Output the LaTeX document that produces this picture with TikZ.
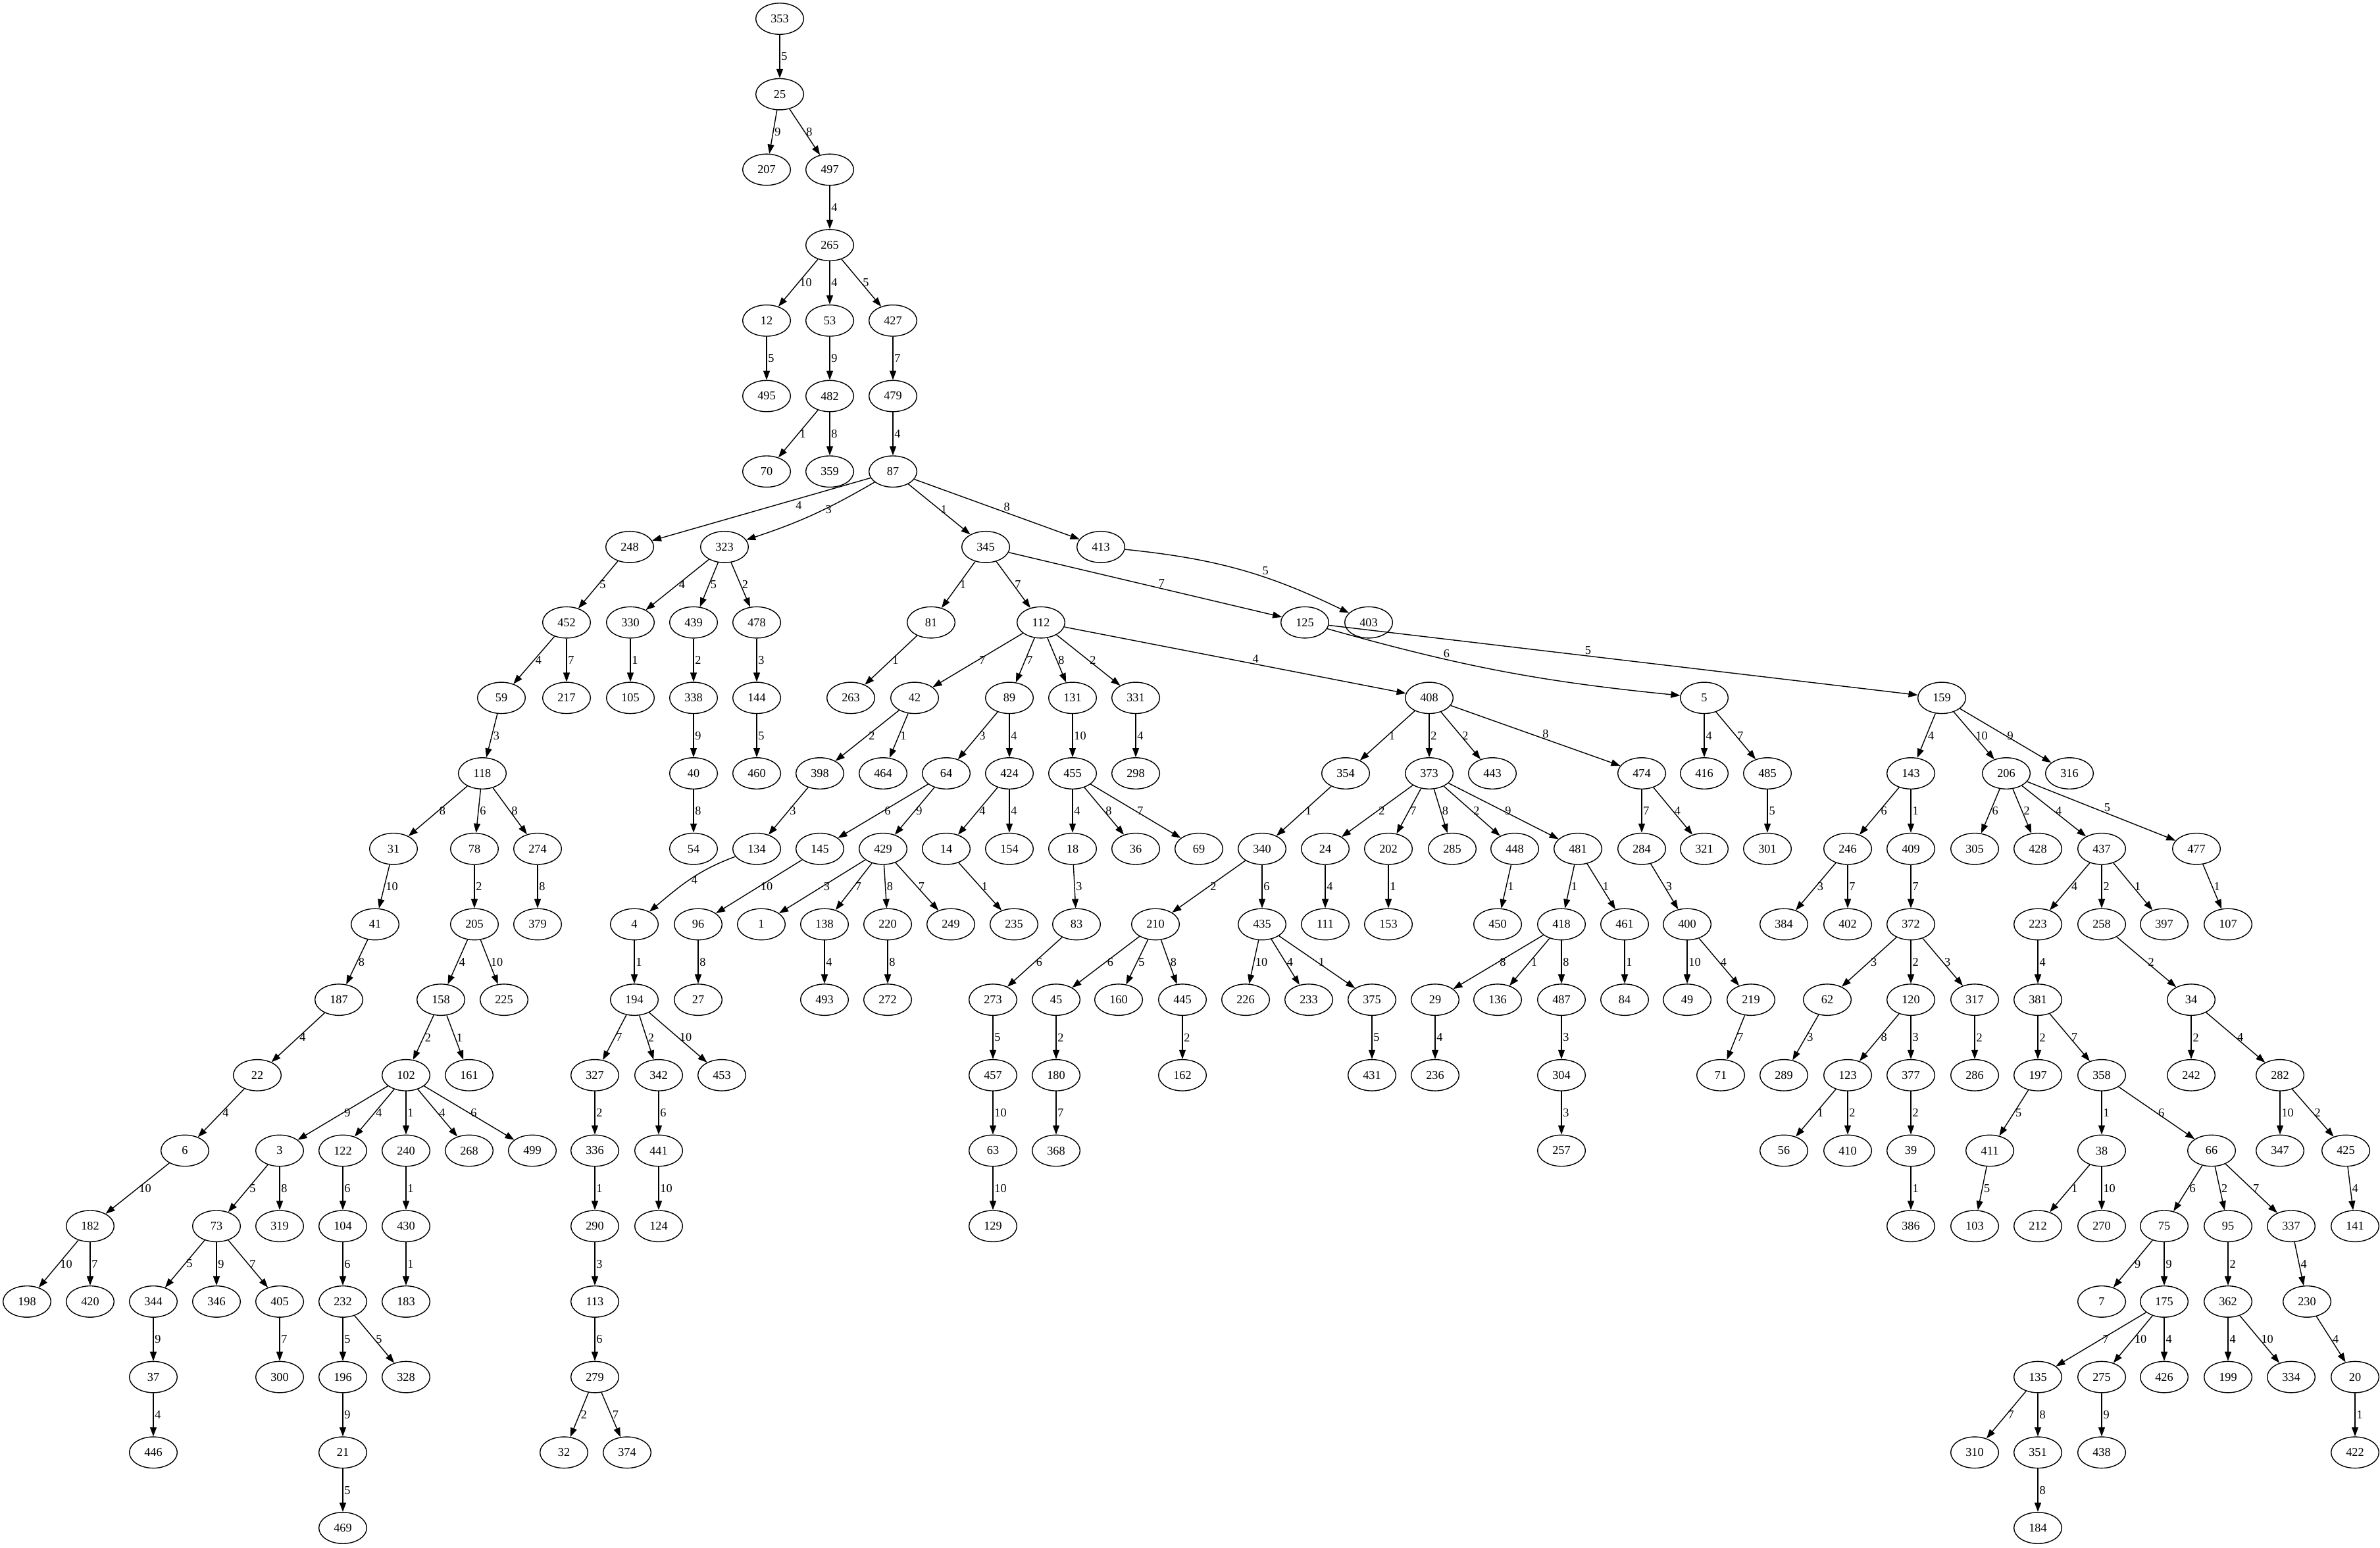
\documentclass[tikz,border=0pt]{standalone}
\usepackage{fontspec}
\setmainfont{Liberation Serif}
\usepackage{tikz}
\usetikzlibrary{shapes.geometric,arrows.meta}
\tikzstyle{vertex} = [ellipse, draw=black, line width=0.4pt, minimum width=0.727cm, minimum height=0.475cm, inner sep=0pt]
\tikzstyle{arrow} = [line width=0.4pt, -{Triangle[length=1.4mm,width=1mm]}]
\tikzstyle{wt} = [anchor=west, inner sep=0.5pt]

\begin{document}
\begin{tikzpicture}[node distance=1.147cm, font=\fontsize{5.2}{6}\selectfont]

\useasboundingbox (0,0) rectangle (36.17,-23.52);

\node (n353) [vertex] at (11.85,-0.285) {353};
\node (n25) [vertex, below of=n353] {25};
\node (n207) [vertex, below of=n25, xshift=-0.2cm] {207};
\node (n497) [vertex, below of=n25, xshift=0.76cm] {497};
\node (n265) [vertex, below of=n497] {265};
\node (n12) [vertex, below of=n265, xshift=-0.96cm] {12};
\node (n53) [vertex, below of=n265] {53};
\node (n427) [vertex, below of=n265, xshift=0.96cm] {427};
\node (n495) [vertex, below of=n12] {495};
\node (n482) [vertex, below of=n53] {482};
\node (n479) [vertex, below of=n427] {479};
\node (n70) [vertex, below of=n482, xshift=-0.96cm] {70};
\node (n359) [vertex, below of=n482] {359};
\node (n87) [vertex, below of=n479] {87};

\node (n248) [vertex, below of=n87, xshift=-4cm] {248};
\node (n323) [vertex, below of=n87, xshift=-2.56cm] {323};
\node (n345) [vertex, below of=n87, xshift=1.41cm] {345};
\node (n413) [vertex, below of=n87, xshift=3.16cm] {413};

\node (n452) [vertex, below of=n248, xshift=-0.96cm] {452};
\node (n330) [vertex, below of=n323, xshift=-1.43cm] {330};
\node (n439) [vertex, below of=n323, xshift=-0.47cm] {439};
\node (n478) [vertex, below of=n323, xshift=0.49cm] {478};
\node (n81) [vertex, below of=n345, xshift=-0.83cm] {81};
\node (n112) [vertex, below of=n345, xshift=0.84cm] {112};
\node (n125) [vertex, below of=n345, xshift=4.85cm] {125};
\node (n403) [vertex, below of=n413, xshift=4.07cm] {403};

\node (n59) [vertex, below of=n452, xshift=-0.99cm] {59};
\node (n217) [vertex, below of=n452] {217};
\node (n105) [vertex, below of=n330] {105};
\node (n338) [vertex, below of=n439] {338};
\node (n144) [vertex, below of=n478] {144};
\node (n263) [vertex, below of=n81, xshift=-1.22cm] {263};
\node (n42) [vertex, below of=n112, xshift=-1.92cm] {42};
\node (n89) [vertex, below of=n112, xshift=-0.48cm] {89};
\node (n131) [vertex, below of=n112, xshift=0.48cm] {131};
\node (n331) [vertex, below of=n112, xshift=1.44cm] {331};
\node (n408) [vertex, below of=n112, xshift=5.9cm] {408};
\node (n5) [vertex, below of=n125, xshift=6.07cm] {5};
\node (n159) [vertex, below of=n125, xshift=9.68cm] {159};

\node (n118) [vertex, below of=n59, xshift=-0.29cm] {118};
\node (n40) [vertex, below of=n338] {40};
\node (n460) [vertex, below of=n144] {460};
\node (n398) [vertex, below of=n42, xshift=-1.44cm] {398};
\node (n464) [vertex, below of=n42, xshift=-0.48cm] {464};
\node (n64) [vertex, below of=n89, xshift=-0.96cm] {64};
\node (n424) [vertex, below of=n89] {424};
\node (n455) [vertex, below of=n131] {455};
\node (n298) [vertex, below of=n331] {298};
\node (n354) [vertex, below of=n408, xshift=-1.27cm] {354};
\node (n373) [vertex, below of=n408] {373};
\node (n443) [vertex, below of=n408, xshift=0.96cm] {443};
\node (n474) [vertex, below of=n408, xshift=3.23cm] {474};
\node (n416) [vertex, below of=n5] {416};
\node (n485) [vertex, below of=n5, xshift=0.96cm] {485};
\node (n143) [vertex, below of=n159, xshift=-0.47cm] {143};
\node (n206) [vertex, below of=n159, xshift=0.98cm] {206};
\node (n316) [vertex, below of=n159, xshift=1.94cm] {316};

\node (n31) [vertex, below of=n118, xshift=-1.35cm] {31};
\node (n78) [vertex, below of=n118, xshift=-0.12cm] {78};
\node (n274) [vertex, below of=n118, xshift=0.84cm] {274};
\node (n54) [vertex, below of=n40] {54};
\node (n134) [vertex, below of=n398, xshift=-0.96cm] {134};
\node (n145) [vertex, below of=n64, xshift=-1.92cm] {145};
\node (n429) [vertex, below of=n64, xshift=-0.96cm] {429};
\node (n14) [vertex, below of=n424, xshift=-0.96cm] {14};
\node (n154) [vertex, below of=n424] {154};
\node (n18) [vertex, below of=n455] {18};
\node (n36) [vertex, below of=n455, xshift=0.96cm] {36};
\node (n69) [vertex, below of=n455, xshift=1.92cm] {69};
\node (n340) [vertex, below of=n354, xshift=-1.27cm] {340};
\node (n24) [vertex, below of=n373, xshift=-1.58cm] {24};
\node (n202) [vertex, below of=n373, xshift=-0.62cm] {202};
\node (n285) [vertex, below of=n373, xshift=0.35cm] {285};
\node (n448) [vertex, below of=n373, xshift=1.3cm] {448};
\node (n481) [vertex, below of=n373, xshift=2.26cm] {481};
\node (n284) [vertex, below of=n474] {284};
\node (n321) [vertex, below of=n474, xshift=0.95cm] {321};
\node (n301) [vertex, below of=n485] {301};
\node (n246) [vertex, below of=n143, xshift=-0.96cm] {246};
\node (n409) [vertex, below of=n143] {409};
\node (n305) [vertex, below of=n206, xshift=-0.48cm] {305};
\node (n428) [vertex, below of=n206, xshift=0.48cm] {428};
\node (n437) [vertex, below of=n206, xshift=1.45cm] {437};
\node (n477) [vertex, below of=n206, xshift=2.89cm] {477};

\node (n41) [vertex, below of=n31, xshift=-0.28cm] {41};
\node (n205) [vertex, below of=n78] {205};
\node (n379) [vertex, below of=n274] {379};
\node (n4) [vertex, below of=n134, xshift=-1.86cm] {4};
\node (n96) [vertex, below of=n145, xshift=-1.85cm] {96};
\node (n1) [vertex, below of=n429, xshift=-1.85cm] {1};
\node (n138) [vertex, below of=n429, xshift=-0.89cm] {138};
\node (n220) [vertex, below of=n429, xshift=0.07cm] {220};
\node (n249) [vertex, below of=n429, xshift=1.03cm] {249};
\node (n235) [vertex, below of=n14, xshift=1.03cm] {235};
\node (n83) [vertex, below of=n18, xshift=0.06cm] {83};
\node (n210) [vertex, below of=n340, xshift=-1.62cm] {210};
\node (n435) [vertex, below of=n340] {435};
\node (n111) [vertex, below of=n24] {111};
\node (n153) [vertex, below of=n202] {153};
\node (n450) [vertex, below of=n448, xshift=-0.26cm] {450};
\node (n418) [vertex, below of=n481, xshift=-0.25cm] {418};
\node (n461) [vertex, below of=n481, xshift=0.71cm] {461};
\node (n400) [vertex, below of=n284, xshift=0.69cm] {400};
\node (n384) [vertex, below of=n246, xshift=-0.97cm] {384};
\node (n402) [vertex, below of=n246] {402};
\node (n372) [vertex, below of=n409] {372};
\node (n223) [vertex, below of=n437, xshift=-0.97cm] {223};
\node (n258) [vertex, below of=n437] {258};
\node (n397) [vertex, below of=n437, xshift=0.95cm] {397};
\node (n107) [vertex, below of=n477, xshift=0.48cm] {107};

\node (n187) [vertex, below of=n41, xshift=-0.55cm] {187};
\node (n158) [vertex, below of=n205, xshift=-0.51cm] {158};
\node (n225) [vertex, below of=n205, xshift=0.45cm] {225};
\node (n194) [vertex, below of=n4] {194};
\node (n27) [vertex, below of=n96] {27};
\node (n493) [vertex, below of=n138] {493};
\node (n272) [vertex, below of=n220] {272};
\node (n273) [vertex, below of=n83, xshift=-1.27cm] {273};
\node (n45) [vertex, below of=n210, xshift=-1.51cm] {45};
\node (n160) [vertex, below of=n210, xshift=-0.56cm] {160};
\node (n445) [vertex, below of=n210, xshift=0.41cm] {445};
\node (n226) [vertex, below of=n435, xshift=-0.25cm] {226};
\node (n233) [vertex, below of=n435, xshift=0.71cm] {233};
\node (n375) [vertex, below of=n435, xshift=1.67cm] {375};
\node (n29) [vertex, below of=n418, xshift=-1.92cm] {29};
\node (n136) [vertex, below of=n418, xshift=-0.97cm] {136};
\node (n487) [vertex, below of=n418] {487};
\node (n84) [vertex, below of=n461] {84};
\node (n49) [vertex, below of=n400] {49};
\node (n219) [vertex, below of=n400, xshift=0.97cm] {219};
\node (n62) [vertex, below of=n372, xshift=-1.27cm] {62};
\node (n120) [vertex, below of=n372] {120};
\node (n317) [vertex, below of=n372, xshift=0.97cm] {317};
\node (n381) [vertex, below of=n223] {381};
\node (n34) [vertex, below of=n258, xshift=1.36cm] {34};

\node (n22) [vertex, below of=n187, xshift=-1.24cm] {22};
\node (n102) [vertex, below of=n158, xshift=-0.53cm] {102};
\node (n161) [vertex, below of=n158, xshift=0.43cm] {161};
\node (n327) [vertex, below of=n194, xshift=-0.6cm] {327};
\node (n342) [vertex, below of=n194, xshift=0.37cm] {342};
\node (n453) [vertex, below of=n194, xshift=1.33cm] {453};
\node (n457) [vertex, below of=n273] {457};
\node (n180) [vertex, below of=n45] {180};
\node (n162) [vertex, below of=n445] {162};
\node (n431) [vertex, below of=n375] {431};
\node (n236) [vertex, below of=n29] {236};
\node (n304) [vertex, below of=n487] {304};
\node (n71) [vertex, below of=n219, xshift=-0.46cm] {71};
\node (n289) [vertex, below of=n62, xshift=-0.66cm] {289};
\node (n123) [vertex, below of=n120, xshift=-0.96cm] {123};
\node (n377) [vertex, below of=n120] {377};
\node (n286) [vertex, below of=n317] {286};
\node (n197) [vertex, below of=n381] {197};
\node (n358) [vertex, below of=n381, xshift=0.97cm] {358};
\node (n242) [vertex, below of=n34] {242};
\node (n282) [vertex, below of=n34, xshift=1.35cm] {282};

\node (n6) [vertex, below of=n22, xshift=-1.1cm] {6};
\node (n3) [vertex, below of=n102, xshift=-1.92cm] {3};
\node (n122) [vertex, below of=n102, xshift=-0.96cm] {122};
\node (n240) [vertex, below of=n102] {240};
\node (n268) [vertex, below of=n102, xshift=0.96cm] {268};
\node (n499) [vertex, below of=n102, xshift=1.92cm] {499};
\node (n336) [vertex, below of=n327] {336};
\node (n441) [vertex, below of=n342] {441};
\node (n63) [vertex, below of=n457] {63};
\node (n368) [vertex, below of=n180] {368};
\node (n257) [vertex, below of=n304] {257};
\node (n56) [vertex, below of=n123, xshift=-0.97cm] {56};
\node (n410) [vertex, below of=n123] {410};
\node (n39) [vertex, below of=n377] {39};
\node (n411) [vertex, below of=n197, xshift=-0.73cm] {411};
\node (n38) [vertex, below of=n358] {38};
\node (n66) [vertex, below of=n358, xshift=1.67cm] {66};
\node (n347) [vertex, below of=n282] {347};
\node (n425) [vertex, below of=n282, xshift=1cm] {425};

\node (n182) [vertex, below of=n6, xshift=-1.44cm] {182};
\node (n73) [vertex, below of=n3, xshift=-0.96cm] {73};
\node (n319) [vertex, below of=n3] {319};
\node (n104) [vertex, below of=n122] {104};
\node (n430) [vertex, below of=n240] {430};
\node (n290) [vertex, below of=n336] {290};
\node (n124) [vertex, below of=n441] {124};
\node (n129) [vertex, below of=n63] {129};
\node (n386) [vertex, below of=n39] {386};
\node (n103) [vertex, below of=n411, xshift=-0.23cm] {103};
\node (n212) [vertex, below of=n38, xshift=-0.97cm] {212};
\node (n270) [vertex, below of=n38] {270};
\node (n75) [vertex, below of=n66, xshift=-0.72cm] {75};
\node (n95) [vertex, below of=n66, xshift=0.25cm] {95};
\node (n337) [vertex, below of=n66, xshift=1.21cm] {337};
\node (n141) [vertex, below of=n425, xshift=0.14cm] {141};

\node (n198) [vertex, below of=n182, xshift=-0.96cm] {198};
\node (n420) [vertex, below of=n182] {420};
\node (n344) [vertex, below of=n73, xshift=-0.96cm] {344};
\node (n346) [vertex, below of=n73] {346};
\node (n405) [vertex, below of=n73, xshift=0.96cm] {405};
\node (n232) [vertex, below of=n104] {232};
\node (n183) [vertex, below of=n430] {183};
\node (n113) [vertex, below of=n290] {113};
\node (n7) [vertex, below of=n75, xshift=-0.95cm] {7};
\node (n175) [vertex, below of=n75] {175};
\node (n362) [vertex, below of=n95] {362};
\node (n230) [vertex, below of=n337, xshift=0.24cm] {230};

\node (n37) [vertex, below of=n344] {37};
\node (n300) [vertex, below of=n405] {300};
\node (n196) [vertex, below of=n232] {196};
\node (n328) [vertex, below of=n232, xshift=0.96cm] {328};
\node (n279) [vertex, below of=n113] {279};
\node (n135) [vertex, below of=n175, xshift=-1.92cm] {135};
\node (n275) [vertex, below of=n175, xshift=-0.95cm] {275};
\node (n426) [vertex, below of=n175] {426};
\node (n199) [vertex, below of=n362] {199};
\node (n334) [vertex, below of=n362, xshift=0.96cm] {334};
\node (n20) [vertex, below of=n230, xshift=0.73cm] {20};

\node (n446) [vertex, below of=n37] {446};
\node (n21) [vertex, below of=n196] {21};
\node (n32) [vertex, below of=n279, xshift=-0.47cm] {32};
\node (n374) [vertex, below of=n279, xshift=0.49cm] {374};
\node (n310) [vertex, below of=n135, xshift=-0.96cm] {310};
\node (n351) [vertex, below of=n135] {351};
\node (n438) [vertex, below of=n275] {438};
\node (n422) [vertex, below of=n20] {422};
\node (n469) [vertex, below of=n21] {469};
\node (n184) [vertex, below of=n351] {184};



\draw [arrow] (n353) -- node[wt] {5} (n25);
\draw [arrow] (n25) -- node[wt] {9} (n207);
\draw [arrow] (n25) -- node[wt] {8} (n497);
\draw [arrow] (n497) -- node[wt] {4} (n265);
\draw [arrow] (n265) -- node[wt] {10} (n12);
\draw [arrow] (n265) -- node[wt] {4} (n53);
\draw [arrow] (n265) -- node[wt] {5} (n427);
\draw [arrow] (n12) -- node[wt] {5} (n495);
\draw [arrow] (n53) -- node[wt] {9} (n482);
\draw [arrow] (n427) -- node[wt] {7} (n479);
\draw [arrow] (n482) -- node[wt] {1} (n70);
\draw [arrow] (n482) -- node[wt] {8} (n359);
\draw [arrow] (n479) -- node[wt] {4} (n87);

\draw [arrow] (n87) -- node[wt, pos=0.35, anchor=north west] {4} (n248);
\draw [arrow] (n87) to[bend left=6] node[wt, pos=0.4] {3} (n323);
\draw [arrow] (n87) -- node[wt] {1} (n345);
\draw [arrow] (n87) -- node[wt, pos=0.56, anchor=south] {8} (n413);
\draw [arrow] (n248) -- node[wt] {5} (n452);
\draw [arrow] (n323) -- node[wt] {4} (n330);
\draw [arrow] (n323) -- node[wt] {5} (n439);
\draw [arrow] (n323) -- node[wt] {2} (n478);
\draw [arrow] (n345) -- node[wt] {1} (n81);
\draw [arrow] (n345) -- node[wt] {7} (n112);
\draw [arrow] (n345) -- node[wt, pos=0.56, anchor=south] {7} (n125);
\draw [arrow] (n413) to[bend left=10] node[wt, pos=0.6, anchor=south west] {5} (n403);

\draw [arrow] (n452) -- node[wt] {4} (n59);
\draw [arrow] (n452) -- node[wt] {7} (n217);
\draw [arrow] (n330) -- node[wt] {1} (n105);
\draw [arrow] (n439) -- node[wt] {2} (n338);
\draw [arrow] (n478) -- node[wt] {3} (n144);
\draw [arrow] (n81) -- node[wt] {1} (n263);
\draw [arrow] (n112) -- node[wt] {7} (n42);
\draw [arrow] (n112) -- node[wt] {7} (n89);
\draw [arrow] (n112) -- node[wt] {8} (n131);
\draw [arrow] (n112) -- node[wt] {2} (n331);
\draw [arrow] (n112) -- node[wt, pos=0.56, anchor=south] {4} (n408);
\draw [arrow] (n125) to[bend right=5] node[wt, pos=0.33, anchor=south] {6} (n5);
\draw [arrow] (n125) -- node[wt, pos=0.44, anchor=south] {5} (n159);

\draw [arrow] (n59) -- node[wt] {3} (n118);
\draw [arrow] (n338) -- node[wt] {9} (n40);
\draw [arrow] (n144) -- node[wt] {5} (n460);
\draw [arrow] (n42) -- node[wt] {2} (n398);
\draw [arrow] (n42) -- node[wt] {1} (n464);
\draw [arrow] (n89) -- node[wt] {3} (n64);
\draw [arrow] (n89) -- node[wt] {4} (n424);
\draw [arrow] (n131) -- node[wt] {10} (n455);
\draw [arrow] (n331) -- node[wt] {4} (n298);
\draw [arrow] (n408) -- node[wt] {1} (n354);
\draw [arrow] (n408) -- node[wt] {2} (n373);
\draw [arrow] (n408) -- node[wt] {2} (n443);
\draw [arrow] (n408) -- node[wt, pos=0.56, anchor=south] {8} (n474);
\draw [arrow] (n5) -- node[wt] {4} (n416);
\draw [arrow] (n5) -- node[wt] {7} (n485);
\draw [arrow] (n159) -- node[wt] {4} (n143);
\draw [arrow] (n159) -- node[wt] {10} (n206);
\draw [arrow] (n159) -- node[wt] {9} (n316);

\draw [arrow] (n118) -- node[wt] {8} (n31);
\draw [arrow] (n118) -- node[wt] {6} (n78);
\draw [arrow] (n118) -- node[wt] {8} (n274);
\draw [arrow] (n40) -- node[wt] {8} (n54);
\draw [arrow] (n398) -- node[wt] {3} (n134);
\draw [arrow] (n64) -- node[wt] {6} (n145);
\draw [arrow] (n64) -- node[wt] {9} (n429);
\draw [arrow] (n424) -- node[wt] {4} (n14);
\draw [arrow] (n424) -- node[wt] {4} (n154);
\draw [arrow] (n455) -- node[wt] {4} (n18);
\draw [arrow] (n455) -- node[wt] {8} (n36);
\draw [arrow] (n455) -- node[wt] {7} (n69);
\draw [arrow] (n354) -- node[wt] {1} (n340);
\draw [arrow] (n373) -- node[wt] {2} (n24);
\draw [arrow] (n373) -- node[wt] {7} (n202);
\draw [arrow] (n373) -- node[wt] {8} (n285);
\draw [arrow] (n373) -- node[wt] {2} (n448);
\draw [arrow] (n373) -- node[wt] {9} (n481);
\draw [arrow] (n474) -- node[wt] {7} (n284);
\draw [arrow] (n474) -- node[wt] {4} (n321);
\draw [arrow] (n485) -- node[wt] {5} (n301);
\draw [arrow] (n143) -- node[wt] {6} (n246);
\draw [arrow] (n143) -- node[wt] {1} (n409);
\draw [arrow] (n206) -- node[wt] {6} (n305);
\draw [arrow] (n206) -- node[wt] {2} (n428);
\draw [arrow] (n206) -- node[wt] {4} (n437);
\draw [arrow] (n206) -- node[wt, pos=0.54, anchor=south] {5} (n477);

\draw [arrow] (n31) -- node[wt] {10} (n41);
\draw [arrow] (n78) -- node[wt] {2} (n205);
\draw [arrow] (n274) -- node[wt] {8} (n379);
\draw [arrow] (n134) to[out=200, in=40] node[wt] {4} (n4);
\draw [arrow] (n145) -- node[wt] {10} (n96);
\draw [arrow] (n429) -- node[wt] {3} (n1);
\draw [arrow] (n429) -- node[wt] {7} (n138);
\draw [arrow] (n429) -- node[wt] {8} (n220);
\draw [arrow] (n429) -- node[wt] {7} (n249);
\draw [arrow] (n14) -- node[wt] {1} (n235);
\draw [arrow] (n18) -- node[wt] {3} (n83);
\draw [arrow] (n340) -- node[wt] {2} (n210);
\draw [arrow] (n340) -- node[wt] {6} (n435);
\draw [arrow] (n24) -- node[wt] {4} (n111);
\draw [arrow] (n202) -- node[wt] {1} (n153);
\draw [arrow] (n448) -- node[wt] {1} (n450);
\draw [arrow] (n481) -- node[wt] {1} (n418);
\draw [arrow] (n481) -- node[wt] {1} (n461);
\draw [arrow] (n284) -- node[wt] {3} (n400);
\draw [arrow] (n246) -- node[wt] {3} (n384);
\draw [arrow] (n246) -- node[wt] {7} (n402);
\draw [arrow] (n409) -- node[wt] {7} (n372);
\draw [arrow] (n437) -- node[wt] {4} (n223);
\draw [arrow] (n437) -- node[wt] {2} (n258);
\draw [arrow] (n437) -- node[wt] {1} (n397);
\draw [arrow] (n477) -- node[wt] {1} (n107);

\draw [arrow] (n41) -- node[wt] {8} (n187);
\draw [arrow] (n205) -- node[wt] {4} (n158);
\draw [arrow] (n205) -- node[wt] {10} (n225);
\draw [arrow] (n4) -- node[wt] {1} (n194);
\draw [arrow] (n96) -- node[wt] {8} (n27);
\draw [arrow] (n138) -- node[wt] {4} (n493);
\draw [arrow] (n220) -- node[wt] {8} (n272);
\draw [arrow] (n83) -- node[wt] {6} (n273);
\draw [arrow] (n210) -- node[wt] {6} (n45);
\draw [arrow] (n210) -- node[wt] {5} (n160);
\draw [arrow] (n210) -- node[wt] {8} (n445);
\draw [arrow] (n435) -- node[wt] {10} (n226);
\draw [arrow] (n435) -- node[wt] {4} (n233);
\draw [arrow] (n435) -- node[wt] {1} (n375);
\draw [arrow] (n418) -- node[wt] {8} (n29);
\draw [arrow] (n418) -- node[wt] {1} (n136);
\draw [arrow] (n418) -- node[wt] {8} (n487);
\draw [arrow] (n461) -- node[wt] {1} (n84);
\draw [arrow] (n400) -- node[wt] {10} (n49);
\draw [arrow] (n400) -- node[wt] {4} (n219);
\draw [arrow] (n372) -- node[wt] {3} (n62);
\draw [arrow] (n372) -- node[wt] {2} (n120);
\draw [arrow] (n372) -- node[wt] {3} (n317);
\draw [arrow] (n223) -- node[wt] {4} (n381);
\draw [arrow] (n258) -- node[wt] {2} (n34);

\draw [arrow] (n187) -- node[wt] {4} (n22);
\draw [arrow] (n158) -- node[wt] {2} (n102);
\draw [arrow] (n158) -- node[wt] {1} (n161);
\draw [arrow] (n194) -- node[wt] {7} (n327);
\draw [arrow] (n194) -- node[wt] {2} (n342);
\draw [arrow] (n194) -- node[wt] {10} (n453);
\draw [arrow] (n273) -- node[wt] {5} (n457);
\draw [arrow] (n45) -- node[wt] {2} (n180);
\draw [arrow] (n445) -- node[wt] {2} (n162);
\draw [arrow] (n375) -- node[wt] {5} (n431);
\draw [arrow] (n29) -- node[wt] {4} (n236);
\draw [arrow] (n487) -- node[wt] {3} (n304);
\draw [arrow] (n219) -- node[wt] {7} (n71);
\draw [arrow] (n62) -- node[wt] {3} (n289);
\draw [arrow] (n120) -- node[wt] {8} (n123);
\draw [arrow] (n120) -- node[wt] {3} (n377);
\draw [arrow] (n317) -- node[wt] {2} (n286);
\draw [arrow] (n381) -- node[wt] {2} (n197);
\draw [arrow] (n381) -- node[wt] {7} (n358);
\draw [arrow] (n34) -- node[wt] {2} (n242);
\draw [arrow] (n34) -- node[wt] {4} (n282);

\draw [arrow] (n22) -- node[wt] {4} (n6);
\draw [arrow] (n102) -- node[wt] {9} (n3);
\draw [arrow] (n102) -- node[wt] {4} (n122);
\draw [arrow] (n102) -- node[wt] {1} (n240);
\draw [arrow] (n102) -- node[wt] {4} (n268);
\draw [arrow] (n102) -- node[wt] {6} (n499);
\draw [arrow] (n327) -- node[wt] {2} (n336);
\draw [arrow] (n342) -- node[wt] {6} (n441);
\draw [arrow] (n457) -- node[wt] {10} (n63);
\draw [arrow] (n180) -- node[wt] {7} (n368);
\draw [arrow] (n304) -- node[wt] {3} (n257);
\draw [arrow] (n123) -- node[wt] {1} (n56);
\draw [arrow] (n123) -- node[wt] {2} (n410);
\draw [arrow] (n377) -- node[wt] {2} (n39);
\draw [arrow] (n197) -- node[wt] {5} (n411);
\draw [arrow] (n358) -- node[wt] {1} (n38);
\draw [arrow] (n358) -- node[wt] {6} (n66);
\draw [arrow] (n282) -- node[wt] {10} (n347);
\draw [arrow] (n282) -- node[wt] {2} (n425);

\draw [arrow] (n6) -- node[wt] {10} (n182);
\draw [arrow] (n3) -- node[wt] {5} (n73);
\draw [arrow] (n3) -- node[wt] {8} (n319);
\draw [arrow] (n122) -- node[wt] {6} (n104);
\draw [arrow] (n240) -- node[wt] {1} (n430);
\draw [arrow] (n336) -- node[wt] {1} (n290);
\draw [arrow] (n441) -- node[wt] {10} (n124);
\draw [arrow] (n63) -- node[wt] {10} (n129);
\draw [arrow] (n39) -- node[wt] {1} (n386);
\draw [arrow] (n411) -- node[wt] {5} (n103);
\draw [arrow] (n38) -- node[wt] {1} (n212);
\draw [arrow] (n38) -- node[wt] {10} (n270);
\draw [arrow] (n66) -- node[wt] {6} (n75);
\draw [arrow] (n66) -- node[wt] {2} (n95);
\draw [arrow] (n66) -- node[wt] {7} (n337);
\draw [arrow] (n425) -- node[wt] {4} (n141);

\draw [arrow] (n182) -- node[wt] {10} (n198);
\draw [arrow] (n182) -- node[wt] {7} (n420);
\draw [arrow] (n73) -- node[wt] {5} (n344);
\draw [arrow] (n73) -- node[wt] {9} (n346);
\draw [arrow] (n73) -- node[wt] {7} (n405);
\draw [arrow] (n104) -- node[wt] {6} (n232);
\draw [arrow] (n430) -- node[wt] {1} (n183);
\draw [arrow] (n290) -- node[wt] {3} (n113);
\draw [arrow] (n75) -- node[wt] {9} (n7);
\draw [arrow] (n75) -- node[wt] {9} (n175);
\draw [arrow] (n95) -- node[wt] {2} (n362);
\draw [arrow] (n337) -- node[wt] {4} (n230);

\draw [arrow] (n344) -- node[wt] {9} (n37);
\draw [arrow] (n405) -- node[wt] {7} (n300);
\draw [arrow] (n232) -- node[wt] {5} (n196);
\draw [arrow] (n232) -- node[wt] {5} (n328);
\draw [arrow] (n113) -- node[wt] {6} (n279);
\draw [arrow] (n175) -- node[wt] {7} (n135);
\draw [arrow] (n175) -- node[wt] {10} (n275);
\draw [arrow] (n175) -- node[wt] {4} (n426);
\draw [arrow] (n362) -- node[wt] {4} (n199);
\draw [arrow] (n362) -- node[wt] {10} (n334);
\draw [arrow] (n230) -- node[wt] {4} (n20);

\draw [arrow] (n37) -- node[wt] {4} (n446);
\draw [arrow] (n196) -- node[wt] {9} (n21);
\draw [arrow] (n279) -- node[wt] {2} (n32);
\draw [arrow] (n279) -- node[wt] {7} (n374);
\draw [arrow] (n135) -- node[wt] {7} (n310);
\draw [arrow] (n135) -- node[wt] {8} (n351);
\draw [arrow] (n275) -- node[wt] {9} (n438);
\draw [arrow] (n20) -- node[wt] {1} (n422);
\draw [arrow] (n21) -- node[wt] {5} (n469);
\draw [arrow] (n351) -- node[wt] {8} (n184);


\end{tikzpicture}
\end{document}
